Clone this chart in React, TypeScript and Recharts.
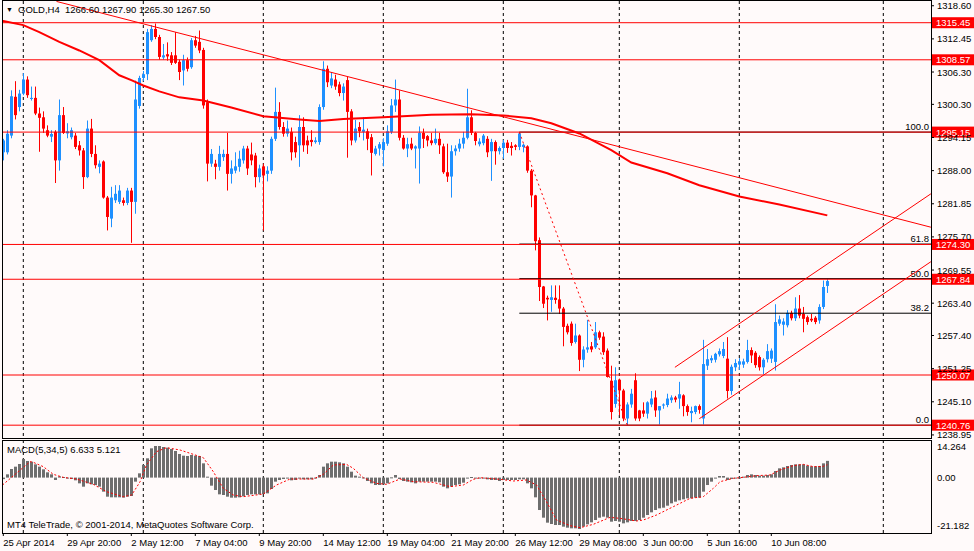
import React from "react";
import { ComposedChart, Bar, Line, XAxis, YAxis, ReferenceLine, CartesianGrid } from "recharts";

const FONT = "'Liberation Sans', Arial, sans-serif";
const FS = 9.5;
const BG = "#FFFAFA";
const BULL = "#1E90FF";
const BEAR = "#FF0000";
const HIST = "#6E6E6E";

const X_MIN = -0.325;
const X_MAX = 231.925;
const PRICE_MIN = 1238.38;
const PRICE_MAX = 1319.48;
const MACD_MIN = -21.98;
const MACD_MAX = 14.92;

// ---- candles (H4 bars, index 0..206) ----
const OPEN = [
  1291.4, 1291.4, 1294.5, 1301.7, 1299.8, 1302.3, 1304.9, 1301.3, 1301.5, 1298.6,
  1297.9, 1295.5, 1294.3, 1295.2, 1289.9, 1298.3, 1294.9, 1294.2, 1294.5, 1292.7,
  1291.75, 1286.8, 1295.8, 1291.1, 1288.7, 1289.7, 1283.0, 1279.1, 1282.5, 1282.2,
  1282.5, 1282.0, 1284.3, 1282.2, 1300.0, 1305.2, 1305.9, 1312.2, 1314.3, 1312.8,
  1309.0, 1309.6, 1309.4, 1309.4, 1308.2, 1306.6, 1308.5, 1307.2, 1312.2, 1311.9,
  1310.4, 1300.7, 1289.3, 1289.3, 1288.7, 1290.5, 1291.1, 1287.4, 1288.0, 1288.7,
  1289.9, 1292.1, 1291.0, 1290.8, 1286.8, 1288.8, 1287.4, 1288.0, 1293.9, 1298.9,
  1296.1, 1294.85, 1295.2, 1293.3, 1292.7, 1296.1, 1293.6, 1293.7, 1293.3, 1293.3,
  1299.8, 1306.9, 1303.8, 1304.9, 1304.0, 1302.4, 1304.8, 1299.0, 1293.6, 1296.1,
  1295.2, 1295.3, 1294.2, 1291.1, 1292.1, 1291.8, 1293.0, 1295.2, 1300.1, 1301.2,
  1294.1, 1292.1, 1293.0, 1292.1, 1292.1, 1295.0, 1294.4, 1293.6, 1293.1, 1293.9,
  1292.5, 1287.7, 1286.9, 1291.6, 1292.1, 1293.0, 1294.1, 1297.9, 1295.0, 1292.9,
  1293.1, 1293.9, 1291.6, 1293.3, 1291.6, 1292.2, 1293.2, 1292.6, 1292.7, 1292.4,
  1292.4, 1292.5, 1288.0, 1283.4, 1275.1, 1266.5, 1264.4, 1264.0, 1264.4, 1264.1,
  1262.4, 1259.2, 1259.6, 1256.2, 1257.4, 1252.9, 1254.8, 1255.4, 1255.2, 1258.0,
  1257.2, 1254.6, 1249.0, 1244.7, 1249.2, 1247.2, 1242.0, 1244.6, 1249.1, 1243.5,
  1243.5, 1242.9, 1244.6, 1245.9, 1243.5, 1244.4, 1244.5, 1245.4, 1245.9, 1245.7,
  1246.3, 1244.3, 1243.0, 1243.2, 1244.3, 1242.0, 1251.8, 1252.8, 1252.9, 1253.9,
  1253.6, 1253.1, 1247.1, 1251.5, 1252.0, 1252.0, 1252.5, 1254.7, 1254.2, 1253.4,
  1251.5, 1253.0, 1253.1, 1252.5, 1259.6, 1259.4, 1259.3, 1261.6, 1260.6, 1262.4,
  1261.4, 1260.8, 1260.5, 1260.7, 1260.2, 1262.7, 1266.6,
];
const HIGH = [
  1293.9, 1295.5, 1302.9, 1304.6, 1303.0, 1306.1, 1305.5, 1303.6, 1303.6, 1299.7,
  1299.0, 1296.4, 1295.5, 1295.5, 1301.2, 1299.8, 1296.8, 1296.0, 1295.0, 1293.5,
  1292.2, 1297.3, 1297.6, 1292.7, 1289.9, 1289.9, 1283.3, 1285.0, 1285.3, 1285.3,
  1283.0, 1284.8, 1284.8, 1304.7, 1305.6, 1306.5, 1314.3, 1315.0, 1315.3, 1313.2,
  1311.5, 1311.8, 1310.0, 1313.7, 1308.6, 1309.5, 1309.0, 1312.6, 1313.0, 1314.0,
  1310.8, 1301.2, 1292.0, 1290.0, 1292.6, 1291.9, 1295.0, 1289.9, 1291.4, 1291.7,
  1292.6, 1292.6, 1293.2, 1291.3, 1289.1, 1289.3, 1288.8, 1294.3, 1303.4, 1300.7,
  1297.0, 1297.3, 1296.0, 1294.3, 1298.3, 1297.9, 1294.5, 1295.5, 1294.2, 1300.3,
  1308.3, 1307.5, 1306.3, 1305.8, 1304.5, 1304.2, 1305.4, 1299.4, 1297.4, 1297.0,
  1297.9, 1295.8, 1294.8, 1292.6, 1293.3, 1294.0, 1296.4, 1301.3, 1304.9, 1302.9,
  1294.6, 1294.1, 1294.1, 1292.7, 1296.2, 1295.8, 1294.6, 1295.0, 1295.8, 1295.0,
  1293.0, 1293.0, 1292.7, 1292.7, 1293.9, 1295.2, 1303.2, 1299.2, 1295.2, 1294.0,
  1294.8, 1294.4, 1293.9, 1293.6, 1292.5, 1293.7, 1293.7, 1293.3, 1292.9, 1295.15,
  1293.0, 1292.7, 1288.3, 1283.5, 1275.6, 1266.6, 1264.8, 1266.7, 1266.7, 1266.7,
  1262.7, 1259.6, 1260.0, 1259.6, 1257.6, 1255.4, 1260.3, 1256.2, 1259.9, 1258.3,
  1258.0, 1255.0, 1251.8, 1251.5, 1249.4, 1247.5, 1245.0, 1247.5, 1250.4, 1243.6,
  1245.0, 1245.2, 1247.1, 1247.2, 1244.3, 1244.8, 1246.6, 1246.3, 1246.2, 1248.8,
  1246.5, 1244.6, 1244.2, 1244.4, 1244.6, 1256.6, 1254.9, 1253.7, 1254.2, 1255.0,
  1256.2, 1257.1, 1252.0, 1253.0, 1253.2, 1253.1, 1256.6, 1255.2, 1254.5, 1253.7,
  1253.2, 1255.8, 1255.0, 1263.2, 1261.1, 1260.6, 1262.1, 1262.0, 1264.5, 1264.9,
  1262.7, 1261.1, 1261.4, 1261.0, 1263.2, 1267.6, 1267.9,
];
const LOW = [
  1289.9, 1291.0, 1294.0, 1297.5, 1299.0, 1302.0, 1301.5, 1301.0, 1298.3, 1291.5,
  1295.0, 1294.2, 1293.3, 1285.7, 1288.0, 1294.8, 1294.0, 1293.8, 1292.0, 1290.8,
  1284.6, 1286.6, 1290.5, 1288.4, 1287.5, 1282.8, 1276.9, 1277.5, 1282.0, 1281.8,
  1281.5, 1281.6, 1274.6, 1280.0, 1299.5, 1304.6, 1304.8, 1311.9, 1312.4, 1308.6,
  1308.6, 1308.4, 1307.6, 1307.8, 1304.8, 1303.8, 1306.4, 1306.9, 1310.8, 1309.8,
  1299.5, 1286.0, 1288.7, 1286.4, 1288.0, 1289.8, 1284.3, 1285.6, 1287.5, 1287.8,
  1289.3, 1287.2, 1289.0, 1284.9, 1285.8, 1276.9, 1286.0, 1287.4, 1293.5, 1295.6,
  1294.3, 1294.3, 1289.9, 1290.4, 1288.7, 1291.5, 1291.1, 1292.5, 1293.0, 1292.8,
  1299.3, 1303.5, 1303.3, 1303.0, 1301.8, 1301.0, 1290.4, 1292.7, 1293.2, 1294.2,
  1293.6, 1291.8, 1287.1, 1290.8, 1290.8, 1288.8, 1292.6, 1294.8, 1298.9, 1293.6,
  1291.9, 1290.5, 1291.8, 1288.4, 1285.6, 1292.2, 1292.5, 1292.7, 1292.8, 1291.1,
  1287.4, 1285.9, 1283.0, 1290.8, 1291.5, 1292.1, 1293.8, 1294.6, 1292.7, 1292.5,
  1292.7, 1290.5, 1286.1, 1289.1, 1291.0, 1290.2, 1291.3, 1290.8, 1291.8, 1291.8,
  1291.4, 1287.6, 1281.2, 1273.2, 1263.8, 1262.5, 1260.2, 1261.8, 1263.3, 1261.4,
  1255.4, 1257.6, 1255.5, 1255.9, 1250.8, 1251.5, 1254.2, 1254.3, 1254.9, 1256.6,
  1253.8, 1249.6, 1241.8, 1244.0, 1242.6, 1241.5, 1240.76, 1244.0, 1241.6, 1241.5,
  1242.3, 1242.0, 1244.1, 1242.3, 1240.9, 1243.8, 1244.1, 1244.9, 1245.0, 1243.8,
  1242.4, 1242.5, 1241.3, 1242.8, 1242.9, 1240.9, 1251.0, 1252.3, 1252.4, 1253.5,
  1253.2, 1245.7, 1246.4, 1250.8, 1251.0, 1251.4, 1252.2, 1252.3, 1251.4, 1250.9,
  1250.2, 1252.4, 1252.3, 1250.9, 1259.2, 1257.4, 1258.9, 1260.2, 1260.1, 1260.6,
  1258.0, 1259.4, 1259.9, 1259.5, 1259.6, 1262.3, 1265.3,
];
const CLOSE = [
  1293.6, 1294.85, 1301.8, 1298.3, 1302.3, 1304.9, 1302.0, 1301.5, 1298.6, 1297.8,
  1295.8, 1294.5, 1294.8, 1289.9, 1298.3, 1295.0, 1295.3, 1295.5, 1292.4, 1291.75,
  1286.8, 1295.8, 1291.1, 1289.0, 1289.3, 1283.0, 1279.4, 1283.0, 1283.7, 1284.3,
  1282.0, 1284.3, 1282.2, 1301.2, 1305.2, 1305.9, 1313.7, 1314.3, 1312.8, 1309.1,
  1309.4, 1309.2, 1308.0, 1308.0, 1306.3, 1308.5, 1306.9, 1312.2, 1311.2, 1310.3,
  1300.1, 1289.3, 1291.1, 1288.7, 1291.1, 1291.1, 1287.4, 1288.4, 1288.8, 1290.2,
  1292.1, 1288.4, 1289.9, 1286.8, 1288.4, 1287.1, 1288.0, 1293.9, 1298.9, 1296.1,
  1294.85, 1295.8, 1291.4, 1291.4, 1296.1, 1292.7, 1292.7, 1293.3, 1293.6, 1299.8,
  1306.9, 1304.4, 1305.1, 1303.6, 1302.4, 1303.6, 1298.9, 1293.6, 1295.8, 1295.3,
  1295.6, 1293.9, 1291.3, 1292.1, 1292.9, 1293.3, 1295.3, 1300.1, 1301.2, 1294.1,
  1292.1, 1292.9, 1292.1, 1292.5, 1295.0, 1293.9, 1293.6, 1293.1, 1293.9, 1292.7,
  1287.7, 1286.9, 1291.6, 1292.1, 1293.0, 1294.1, 1297.9, 1295.0, 1293.5, 1293.4,
  1294.5, 1291.4, 1293.3, 1291.6, 1292.2, 1293.2, 1292.2, 1292.2, 1292.4, 1294.9,
  1292.8, 1288.0, 1283.4, 1274.9, 1266.4, 1263.3, 1264.1, 1264.5, 1264.0, 1262.4,
  1259.0, 1258.0, 1256.0, 1257.4, 1252.9, 1254.8, 1255.2, 1254.8, 1258.0, 1257.0,
  1254.3, 1249.7, 1243.2, 1249.1, 1247.2, 1242.0, 1244.6, 1246.6, 1242.0, 1242.0,
  1242.9, 1245.0, 1245.7, 1243.5, 1244.3, 1244.6, 1245.7, 1245.9, 1245.5, 1246.5,
  1244.3, 1243.2, 1243.4, 1244.3, 1243.6, 1252.1, 1253.0, 1253.2, 1254.0, 1254.5,
  1254.9, 1247.1, 1251.6, 1252.3, 1252.6, 1252.6, 1254.7, 1253.7, 1251.9, 1251.5,
  1252.9, 1254.5, 1254.6, 1259.9, 1260.4, 1260.0, 1261.6, 1260.6, 1262.4, 1261.1,
  1260.5, 1259.9, 1260.2, 1259.9, 1262.7, 1266.4, 1267.5,
];

// ---- MACD(5,34,5) histogram per bar ----
const MACD_HIST = [
  -0.6, 1.3, 3.41, 4.34, 5.4, 7.38, 6.59, 6.32, 5.26, 4.34,
  3.28, 2.09, 1.3, -0.95, 0.5, 0.24, -0.29, -0.56, -1.08, -2.28,
  -3.6, -2.28, -2.67, -2.94, -3.6, -5.58, -7.57, -7.83, -7.83, -7.83,
  -7.96, -7.57, -7.3, -1.61, 1.69, 5.0, 7.65, 11.61, 12.54, 12.54,
  12.14, 11.88, 11.35, 10.56, 9.37, 8.7, 8.57, 8.97, 8.7, 8.57,
  5.66, 0.37, -3.2, -4.92, -6.64, -6.9, -7.57, -7.96, -7.96, -7.83,
  -7.43, -6.9, -6.64, -6.64, -6.64, -6.51, -6.24, -4.52, -1.61, -0.95,
  -0.56, -0.29, -1.08, -0.95, -0.29, -0.69, -0.69, -0.69, -0.29, 1.03,
  4.34, 5.66, 6.32, 6.32, 6.06, 5.66, 4.34, 2.35, 0.77, 0.37,
  0.05, -1.35, -2.28, -2.94, -2.94, -2.67, -2.28, 0.1, 1.03, -0.56,
  -1.35, -1.61, -1.88, -2.28, -1.61, -1.61, -1.61, -1.61, -1.61, -1.88,
  -3.6, -4.26, -3.6, -2.94, -2.67, -2.01, -0.1, 0.24, -0.1, -0.2,
  -0.29, -0.69, -0.95, -0.95, -1.35, -0.95, -0.95, -0.95, -0.95, -0.69,
  -0.69, -2.28, -4.26, -7.83, -12.86, -15.9, -17.88, -18.41, -18.81, -18.81,
  -19.47, -19.87, -20.13, -20.13, -20.4, -19.47, -18.54, -17.75, -16.83, -15.9,
  -15.5, -15.9, -17.49, -17.22, -17.49, -18.15, -17.75, -17.22, -17.22, -16.83,
  -15.9, -14.84, -13.78, -12.86, -12.2, -11.93, -11.14, -10.21, -9.55, -9.02,
  -8.62, -8.23, -8.23, -7.96, -7.96, -5.58, -2.94, -1.61, -0.29, 0.63,
  0.63, -0.95, -0.56, -0.29, 0.05, 0.37, 1.03, 1.3, 1.03, 0.77,
  0.77, 1.03, 1.3, 2.62, 3.68, 4.07, 4.6, 5.0, 5.26, 5.26,
  5.26, 4.74, 4.47, 4.47, 4.6, 5.66, 6.633,
];

// signal line (bar index, value)
const SIGNAL_PTS: [number, number][] = [
  [-0.2, -2.94], [6.7, 6.32], [7.5, 6.06], [10, 4.34], [12.5, 1.3], [15, 0.1], [18.3, -0.56],
  [22.5, -2.67], [25.8, -5.58], [30, -7.57], [32.1, -6.9], [34.2, -1.61], [35.8, 5.0], [38.3, 10.3],
  [40.8, 11.88], [44.2, 10.95], [47.5, 9.23], [50, 7.9], [52.5, 2.35], [55, -4.26], [57.5, -6.9],
  [60, -7.57], [65, -6.51], [68.3, -2.94], [71.7, -0.56], [77.5, -0.56], [80, 1.3], [82.5, 5.0],
  [85.8, 5.26], [87.5, 3.68], [90, -0.03], [93.3, -2.28], [95.8, -2.67], [99.2, -0.56], [102.5, -1.61],
  [107.5, -1.88], [111.7, -3.6], [115, -2.94], [117.5, -0.69], [119.2, -0.03], [124.2, -0.69],
  [127.5, -1.35], [130.8, -0.95], [133.3, -2.94], [135.8, -9.55], [138.3, -16.83], [141.7, -19.07],
  [144.2, -19.87], [147.5, -18.54], [151.7, -15.77], [154.2, -16.17], [158.3, -17.22], [160, -16.83],
  [163.3, -14.84], [167.5, -11.54], [171.7, -8.23], [175, -7.57], [177.5, -4.26], [179.2, -1.61],
  [182.5, -0.29], [185, 0.1], [188.3, 0.77], [191.7, 1.03], [194.2, 3.01], [197.5, 4.74], [200, 5.26],
  [202.5, 4.34], [205, 4.47], [206, 5.121],
];

// moving average (bar index, price)
const MA_PTS: [number, number][] = [
  [-0.3, 1315.8], [5, 1315.0], [9, 1313.7], [14, 1311.9], [19, 1310.3], [24, 1308.5], [29, 1305.7],
  [32, 1304.8], [35, 1303.8], [39, 1302.7], [44, 1301.6], [50, 1301.0], [57, 1299.7], [65, 1298.1],
  [74, 1297.5], [79, 1297.2], [85, 1297.6], [95, 1297.9], [107, 1298.35], [117, 1298.45],
  [125, 1298.25], [132, 1297.7], [137, 1296.8], [144, 1294.9], [152, 1291.8], [157, 1289.5],
  [166, 1287.5], [174, 1285.3], [184, 1283.2], [194, 1281.7], [206, 1279.7],
];

// drawn objects (bar index, price)
const TREND_LINE: [number, number][] = [[13.3, 1319.4], [231.9, 1277.5]];
const CHANNEL_UP: [number, number][] = [[167.9, 1251.5], [231.9, 1283.7]];
const CHANNEL_LO: [number, number][] = [[174.0, 1241.96], [231.9, 1271.1]];
const FIB_DIAG: [number, number][] = [[129, 1295.15], [156, 1240.76]];
const FIB_START = 129;
const FIB_RATIOS = ["100.0", "61.8", "50.0", "38.2", "0.0"];
const FIB_PRICES = [1295.15, 1274.37, 1267.96, 1261.54, 1240.76];

const H_LEVELS = [1315.45, 1308.57, 1295.15, 1274.3, 1267.84, 1250.07, 1240.76];
const PRICE_TICKS = [
  1318.6, 1312.45, 1306.3, 1300.3, 1294.15, 1288.0, 1281.85, 1275.7, 1269.55, 1263.4, 1257.4,
  1251.25, 1245.1, 1238.95,
];
const MACD_TICKS = [14.264, 0, -21.182];
const GRID_BARS = [5, 35, 65, 95, 125, 154, 184, 220];
const DATE_TICKS = [0, 16, 32, 48, 64, 80, 96, 112, 128, 144, 160, 176, 192];
const DATE_LABELS = [
  "25 Apr 2014", "29 Apr 20:00", "2 May 12:00", "7 May 04:00", "9 May 20:00", "14 May 12:00",
  "19 May 04:00", "21 May 20:00", "26 May 12:00", "29 May 08:00", "3 Jun 00:00", "5 Jun 16:00",
  "10 Jun 08:00",
];

const CANDLES = OPEN.map((o, i) => ({
  i,
  o,
  h: HIGH[i],
  l: LOW[i],
  c: CLOSE[i],
  range: [LOW[i], HIGH[i]],
}));
const MACD_ROWS = MACD_HIST.map((m, i) => ({ i, m }));
const toRows = (pts: [number, number][]) => pts.map(([i, v]) => ({ i, v }));

function Candle(props: any) {
  const { x, y, width, height, payload } = props;
  if (!payload || x == null) return null;
  const top = Math.min(y, y + height);
  const hgt = Math.abs(height);
  const { o, h, l, c } = payload;
  const k = hgt / (h - l || 1);
  const cx = Math.round(x + width / 2);
  const bTop = top + (h - Math.max(o, c)) * k;
  const bBot = top + (h - Math.min(o, c)) * k;
  const color = c >= o ? BULL : BEAR;
  return (
    <g>
      <line x1={cx + 0.5} x2={cx + 0.5} y1={top} y2={top + hgt} stroke={color} strokeWidth={1} />
      <rect x={cx - 1} y={bTop} width={3} height={Math.max(1, bBot - bTop)} fill={color} />
    </g>
  );
}

function HistBar(props: any) {
  const { x, y, width, height } = props;
  if (x == null) return null;
  const top = Math.min(y, y + height);
  const hgt = Math.max(1, Math.abs(height));
  const cx = Math.round(x + width / 2);
  return <rect x={cx - 1} y={top} width={3} height={hgt} fill={HIST} />;
}

function PriceTick(props: any) {
  const { x, y, payload } = props;
  return (
    <text x={x} y={y + 3.5} fontSize={FS} fontFamily={FONT} fill="#000">
      {Number(payload.value).toFixed(2)}
    </text>
  );
}

function MacdTick(props: any) {
  const { x, y, payload } = props;
  const v = Number(payload.value);
  const label = v === 0 ? "0.00" : v.toFixed(3);
  const shift = v > 0 ? 5 : v < 0 ? -5 : 0;
  return (
    <text x={x} y={y + 3.5 + shift} fontSize={FS} fontFamily={FONT} fill="#000">
      {label}
    </text>
  );
}

function DateTick(props: any) {
  const { x, y, payload } = props;
  const idx = DATE_TICKS.indexOf(payload.value);
  return (
    <text x={x} y={y + 7.5} fontSize={FS} fontFamily={FONT} fill="#000" textAnchor="start">
      {DATE_LABELS[idx]}
    </text>
  );
}

function PriceBox(props: any) {
  const { viewBox, price } = props;
  if (!viewBox) return null;
  const right = viewBox.x + viewBox.width;
  const yy = viewBox.y;
  return (
    <g>
      <rect x={right + 1} y={yy - 5.5} width={44} height={11} fill={BEAR} />
      <text x={right + 5} y={yy + 3.5} fontSize={FS} fontFamily={FONT} fill="#fff">
        {price.toFixed(2)}
      </text>
    </g>
  );
}

function FibLabel(props: any) {
  const { viewBox, text } = props;
  if (!viewBox) return null;
  return (
    <text
      x={viewBox.x + viewBox.width - 2}
      y={viewBox.y - 2}
      textAnchor="end"
      fontSize={FS}
      fontFamily={FONT}
      fill="#000"
    >
      {text}
    </text>
  );
}

const textStyle: React.CSSProperties = {
  position: "absolute",
  fontFamily: FONT,
  fontSize: FS,
  lineHeight: "12px",
  whiteSpace: "pre",
  color: "#000",
};

export default function App() {
  return (
    <div
      style={{
        position: "absolute",
        left: 0,
        top: 0,
        width: 974,
        height: 551,
        background: BG,
        overflow: "hidden",
        fontFamily: FONT,
      }}
    >
      {/* main price panel */}
      <div style={{ position: "absolute", left: 0, top: 0 }}>
        <ComposedChart width={974} height={440} data={CANDLES} margin={{ top: 1, right: 0, bottom: 2, left: 2 }}>
          <CartesianGrid horizontal={false} verticalValues={GRID_BARS} stroke="#000" strokeDasharray="3 3" />
          <XAxis type="number" dataKey="i" domain={[X_MIN, X_MAX]} allowDataOverflow hide />
          <YAxis
            orientation="right"
            width={43}
            domain={[PRICE_MIN, PRICE_MAX]}
            allowDataOverflow
            ticks={PRICE_TICKS}
            interval={0}
            tick={<PriceTick />}
            tickSize={3}
            tickMargin={3}
            tickLine={{ stroke: "#000" }}
            axisLine={false}
          />
          {FIB_PRICES.map((p, k) => (
            <ReferenceLine
              key={"fib" + k}
              segment={[
                { x: FIB_START, y: p },
                { x: X_MAX, y: p },
              ]}
              stroke="#000"
              strokeWidth={1}
              ifOverflow="visible"
              label={<FibLabel text={FIB_RATIOS[k]} />}
            />
          ))}
          {H_LEVELS.map((v) => (
            <ReferenceLine
              key={"h" + v}
              y={v}
              stroke={BEAR}
              strokeWidth={1}
              ifOverflow="visible"
              label={<PriceBox price={v} />}
            />
          ))}
          <Bar dataKey="range" barSize={3} shape={<Candle />} isAnimationActive={false} />
          <Line data={toRows(MA_PTS)} dataKey="v" stroke={BEAR} strokeWidth={2} dot={false} isAnimationActive={false} />
          <Line data={toRows(TREND_LINE)} dataKey="v" stroke={BEAR} strokeWidth={1} dot={false} isAnimationActive={false} />
          <Line data={toRows(CHANNEL_UP)} dataKey="v" stroke={BEAR} strokeWidth={1} dot={false} isAnimationActive={false} />
          <Line data={toRows(CHANNEL_LO)} dataKey="v" stroke={BEAR} strokeWidth={1} dot={false} isAnimationActive={false} />
          <Line
            data={toRows(FIB_DIAG)}
            dataKey="v"
            stroke={BEAR}
            strokeWidth={1}
            strokeDasharray="2 3"
            dot={false}
            isAnimationActive={false}
          />
        </ComposedChart>
      </div>

      {/* MACD panel */}
      <div style={{ position: "absolute", left: 0, top: 439 }}>
        <ComposedChart width={974} height={112} data={MACD_ROWS} margin={{ top: 1, right: 0, bottom: 0, left: 2 }}>
          <CartesianGrid horizontal={false} verticalValues={GRID_BARS} stroke="#000" strokeDasharray="3 3" />
          <XAxis
            type="number"
            dataKey="i"
            domain={[X_MIN, X_MAX]}
            allowDataOverflow
            ticks={DATE_TICKS}
            interval={0}
            height={18}
            tick={<DateTick />}
            tickSize={3}
            tickMargin={2}
            tickLine={{ stroke: "#000" }}
            axisLine={false}
          />
          <YAxis
            orientation="right"
            width={43}
            domain={[MACD_MIN, MACD_MAX]}
            allowDataOverflow
            ticks={MACD_TICKS}
            interval={0}
            tick={<MacdTick />}
            tickSize={3}
            tickMargin={3}
            tickLine={false}
            axisLine={false}
          />
          <Bar dataKey="m" barSize={3} fill={HIST} shape={<HistBar />} isAnimationActive={false} />
          <Line
            data={toRows(SIGNAL_PTS)}
            dataKey="v"
            stroke={BEAR}
            strokeWidth={1}
            strokeDasharray="2 2"
            dot={false}
            isAnimationActive={false}
          />
        </ComposedChart>
      </div>

      {/* panel borders */}
      <div
        style={{
          position: "absolute",
          left: 2,
          top: 0,
          width: 930,
          height: 439,
          border: "1px solid #000",
          boxSizing: "border-box",
          pointerEvents: "none",
        }}
      />
      <div
        style={{
          position: "absolute",
          left: 2,
          top: 440,
          width: 930,
          height: 94,
          border: "1px solid #000",
          boxSizing: "border-box",
          pointerEvents: "none",
        }}
      />

      {/* texts */}
      <div style={{ ...textStyle, left: 6, top: 4, fontSize: 7 }}>▼</div>
      <div style={{ ...textStyle, left: 18, top: 4 }}>GOLD,H4  1266.60 1267.90 1265.30 1267.50</div>
      <div style={{ ...textStyle, left: 7, top: 444 }}>MACD(5,34,5) 6.633 5.121</div>
      <div style={{ ...textStyle, left: 7, top: 519 }}>MT4 TeleTrade, © 2001-2014, MetaQuotes Software Corp.</div>
    </div>
  );
}
